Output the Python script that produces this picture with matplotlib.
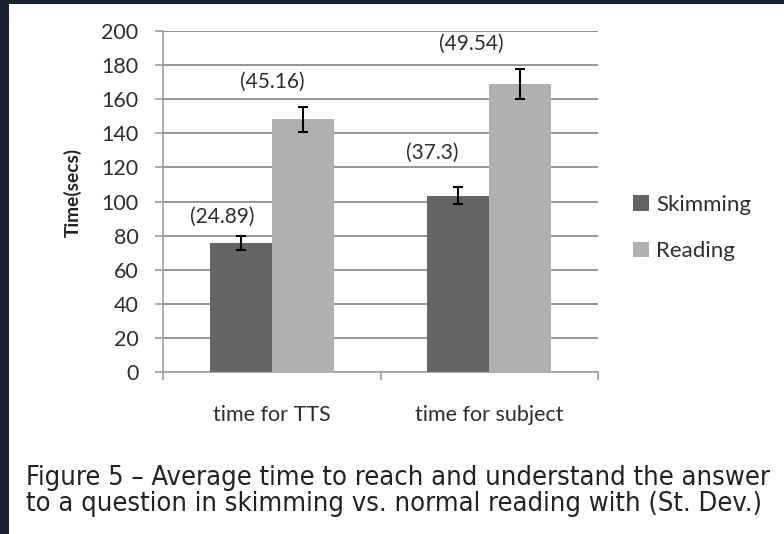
import matplotlib.pyplot as plt
from matplotlib.patches import Rectangle

categories = ["time for TTS", "time for subject"]
skimming = [75.5, 103.5]
reading = [148.2, 168.8]
skimming_err = [4.0, 5.2]
reading_err = [7.5, 8.7]
skimming_sd = ["(24.89)", "(37.3)"]
reading_sd = ["(45.16)", "(49.54)"]
yticks = list(range(0, 201, 20))

ui_font = ["Lato", "DejaVu Sans"]
caption_font = ["Liberation Sans Narrow", "DejaVu Sans"]
dark = "#646464"
light = "#b0b0b0"
grid = "#8c8c8c"
frame = "#1b2130"
ink = "#2e2e2e"

fig = plt.figure(figsize=(7.84, 5.34), dpi=100, facecolor="white")
# dark frame along top and left edges
fig.patches.append(Rectangle((0, 1 - 4 / 534), 1, 4 / 534, transform=fig.transFigure,
                             facecolor=frame, edgecolor="none"))
fig.patches.append(Rectangle((0, 0), 9 / 784, 1, transform=fig.transFigure,
                             facecolor=frame, edgecolor="none"))

ax = fig.add_axes([163 / 784, 1 - 372 / 534, 435 / 784, 341 / 534])
ax.set_facecolor("white")

x = list(range(len(categories)))
w = 0.285
ax.bar([i - w / 2 for i in x], skimming, w, color=dark, label="Skimming", zorder=3)
ax.bar([i + w / 2 for i in x], reading, w, color=light, label="Reading", zorder=3)
ax.errorbar([i - w / 2 for i in x], skimming, yerr=skimming_err, fmt="none",
            ecolor="black", elinewidth=1.5, capsize=3.5, capthick=1.5, zorder=4)
ax.errorbar([i + w / 2 for i in x], reading, yerr=reading_err, fmt="none",
            ecolor="black", elinewidth=1.5, capsize=3.5, capthick=1.5, zorder=4)

# standard deviation notes, nudged off each error bar
skim_dx, skim_dy = [-0.084, -0.118], [11.4, 19.7]
read_dx, read_dy = [-0.139, -0.227], [14.4, 14.9]
for i in x:
    ax.text(i - w / 2 + skim_dx[i], skimming[i] + skimming_err[i] + skim_dy[i], skimming_sd[i],
            ha="center", va="center", fontsize=15, family=ui_font, color=ink)
    ax.text(i + w / 2 + read_dx[i], reading[i] + reading_err[i] + read_dy[i], reading_sd[i],
            ha="center", va="center", fontsize=15, family=ui_font, color=ink)

ax.set_xlim(-0.5, 1.5)
ax.set_ylim(0, 200)
ax.set_yticks(yticks)
ax.set_yticklabels([str(t) for t in yticks], family=ui_font, fontsize=15.5, color=ink)
ax.set_xticks(x)
ax.set_xticklabels(categories, family=ui_font, fontsize=15.5, color=ink)
ax.set_xticks([-0.5, 0.5, 1.5], minor=True)
ax.tick_params(axis="x", which="major", length=0, pad=24)
ax.tick_params(axis="x", which="minor", length=5.8, color="#a0a0a0", width=1.2)
ax.tick_params(axis="y", length=5.8, color="#a0a0a0", width=1.2, pad=12)
ax.yaxis.grid(True, color=grid, linewidth=1.3, zorder=0)
ax.set_axisbelow(True)
for s in ["top", "right"]:
    ax.spines[s].set_visible(False)
for s in ["left", "bottom"]:
    ax.spines[s].set_color("#a0a0a0")
    ax.spines[s].set_linewidth(1.2)

fig.text(73 / 784, 1 - 192 / 534, "Time(secs)", rotation=90, family=ui_font, fontsize=13.8,
         fontweight="bold", color="#222222", ha="center", va="center")

ax.legend(loc="center left", bbox_to_anchor=(613 / 784, 1 - 228 / 534),
          bbox_transform=fig.transFigure, frameon=False, prop={"family": ui_font, "size": 16},
          handlelength=0.7, handleheight=0.7, handletextpad=0.35, labelspacing=1.2,
          labelcolor=ink)

fig.text(26 / 784, 1 - 478 / 534, "Figure 5 \u2013 Average time to reach and understand the answer",
         family=caption_font, fontstretch="condensed", fontsize=19.5, va="center", ha="left",
         color="#222222")
fig.text(26 / 784, 1 - 504 / 534, "to a question in skimming vs. normal reading with (St. Dev.)",
         family=caption_font, fontstretch="condensed", fontsize=19.5, va="center", ha="left",
         color="#222222")

fig.savefig("out.png", dpi=100, facecolor=fig.get_facecolor())
